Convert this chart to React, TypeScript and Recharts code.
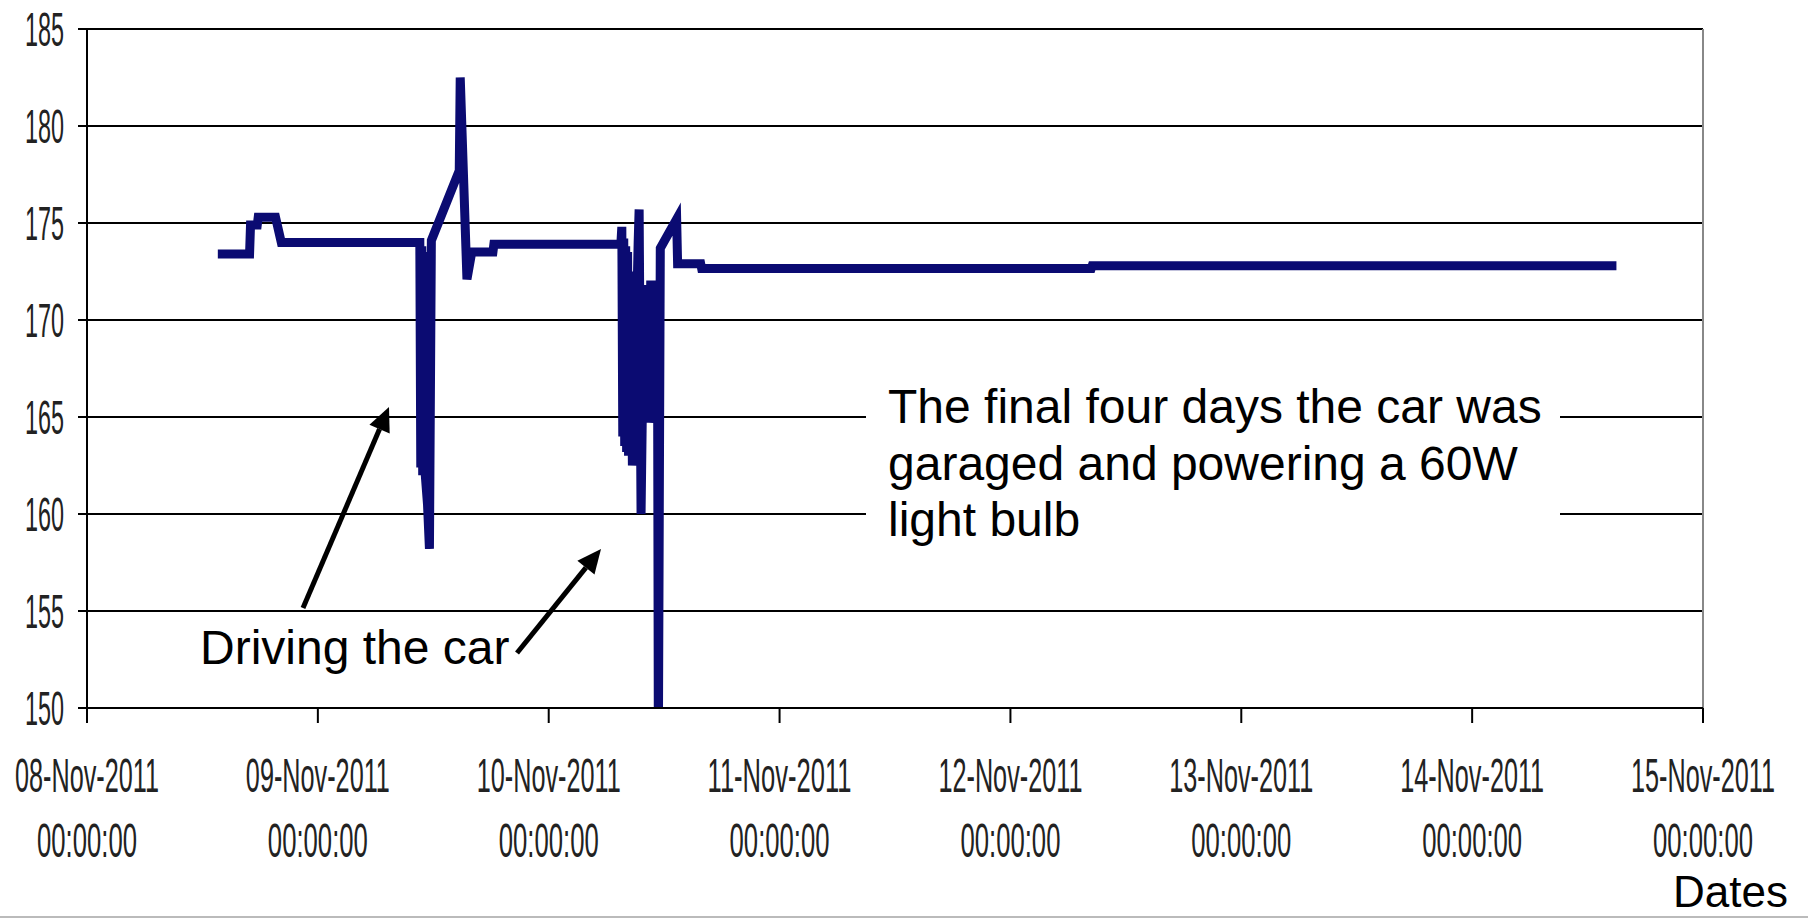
import { CartesianGrid, Line, LineChart, ReferenceLine, XAxis, YAxis } from 'recharts';

// hours since 08-Nov-2011 00:00:00
const hours = [
  13.6, 16.9, 17.0, 17.7, 17.8, 19.6, 20.2,
  34.6, 34.7, 34.8, 34.9, 35.0, 35.1, 35.2, 35.4, 35.6, 35.8,
  38.7, 38.8, 39.5, 40.0, 42.2, 42.3,
  55.5, 55.6, 55.7, 55.8, 55.9, 56.0, 56.1, 56.2, 56.3, 56.5, 56.7, 56.9,
  57.3, 57.4, 57.6, 57.9, 58.0, 58.1, 58.2, 58.3, 58.4, 58.6, 59.3, 59.4, 59.6,
  61.3, 61.4, 63.8, 63.9, 104.4, 104.5, 159.0,
];

const readings = [
  173.4, 173.4, 174.9, 174.9, 175.3, 175.3, 174.0,
  174.0, 162.4, 173.8, 162.0, 173.5, 162.5, 161.8, 160.5, 158.2, 174.1,
  177.7, 182.5, 172.1, 173.5, 173.5, 173.9,
  173.9, 174.8, 164.0, 174.2, 163.5, 173.8, 163.2, 173.5, 163.0, 172.5, 162.5, 165.0,
  174.0, 175.7, 160.0, 171.8, 165.5, 171.8, 165.0, 171.8, 164.7, 171.8, 171.8, 148.0, 173.7,
  175.2, 172.9, 172.9, 172.65, 172.65, 172.8, 172.8,
];

const dayTicks = [0, 24, 48, 72, 96, 120, 144, 168];
const dayLabels = [
  '08-Nov-2011', '09-Nov-2011', '10-Nov-2011', '11-Nov-2011',
  '12-Nov-2011', '13-Nov-2011', '14-Nov-2011', '15-Nov-2011',
];
const valueTicks = [150, 155, 160, 165, 170, 175, 180, 185];

const data = hours.map((h, i) => ({ h, v: readings[i] }));

const FONT = '"Liberation Sans", Arial, sans-serif';

function YTick({ x, y, payload }: any) {
  return (
    <text x={x - 14} y={y + 17} textAnchor="end" fontSize={48} fontFamily={FONT}
      fill="#222" textLength={39} lengthAdjust="spacingAndGlyphs">
      {payload.value}
    </text>
  );
}

// condensed two-line date labels: small font stretched vertically
function XTick({ x, y, payload }: any) {
  const label = dayLabels[dayTicks.indexOf(payload.value)];
  return (
    <g fontFamily={FONT} fontSize={26} fill="#222">
      <text transform={`translate(${x},${y + 69}) scale(1,1.85)`} textAnchor="middle"
        textLength={144} lengthAdjust="spacingAndGlyphs">
        {label}
      </text>
      <text transform={`translate(${x},${y + 134}) scale(1,1.85)`} textAnchor="middle"
        textLength={100} lengthAdjust="spacingAndGlyphs">
        00:00:00
      </text>
    </g>
  );
}

function Arrow({ from, to }: { from: [number, number]; to: [number, number] }) {
  const dx = to[0] - from[0];
  const dy = to[1] - from[1];
  const len = Math.hypot(dx, dy);
  const ux = dx / len;
  const uy = dy / len;
  const bx = to[0] - ux * 24;
  const by = to[1] - uy * 24;
  const px = -uy * 11;
  const py = ux * 11;
  return (
    <g>
      <line x1={from[0]} y1={from[1]} x2={bx} y2={by} stroke="#000" strokeWidth={5} />
      <polygon points={`${to[0]},${to[1]} ${bx + px},${by + py} ${bx - px},${by - py}`} fill="#000" />
    </g>
  );
}

export default function App() {
  return (
    <div style={{ position: 'absolute', left: 0, top: 0, width: 1808, height: 918, background: '#fff' }}>
      <LineChart width={1808} height={918} data={data}
        margin={{ top: 29, right: 105, bottom: 30, left: 0 }}>
        <CartesianGrid vertical={false} stroke="#000" strokeWidth={2} />
        <XAxis dataKey="h" type="number" domain={[0, 168]} ticks={dayTicks}
          height={180} tickSize={15} tickMargin={0} tick={<XTick />}
          stroke="#000" strokeWidth={2} />
        <YAxis type="number" domain={[150, 185]} ticks={valueTicks} allowDataOverflow
          width={87} tickSize={9} tickMargin={0} tick={<YTick />}
          stroke="#000" strokeWidth={2} />
        <ReferenceLine x={168} stroke="#888" strokeWidth={2} />
        <Line type="linear" dataKey="v" stroke="#0b0b72" strokeWidth={9}
          dot={false} isAnimationActive={false} />
      </LineChart>
      <svg width={1808} height={918} style={{ position: 'absolute', left: 0, top: 0, pointerEvents: 'none' }}>
        <rect x={866} y={380} width={694} height={175} fill="#fff" />
        <g fontFamily={FONT} fontSize={48} fill="#000">
          <text x={888} y={423}>The final four days the car was</text>
          <text x={888} y={480}>garaged and powering a 60W</text>
          <text x={888} y={536}>light bulb</text>
          <text x={200} y={664}>Driving the car</text>
        </g>
        <text x={1673} y={907} fontFamily={FONT} fontSize={44} fill="#000">Dates</text>
        <Arrow from={[303, 608]} to={[389, 407]} />
        <Arrow from={[517, 653]} to={[601, 549]} />
        <line x1={0} y1={917} x2={1808} y2={917} stroke="#bbb" strokeWidth={2} />
      </svg>
    </div>
  );
}
